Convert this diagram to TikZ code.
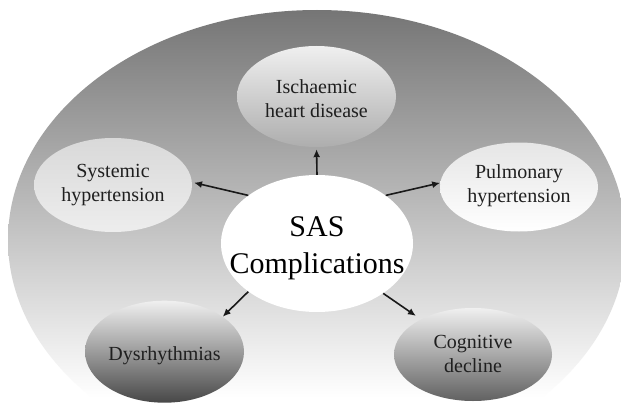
\documentclass[tikz,border=0pt]{standalone}
\usepackage{fontspec}
\newfontfamily\tnr{LiberationSerif-Regular.ttf}
\usetikzlibrary{shapes.geometric,arrows.meta}
\newcommand{\lines}[2][0pt]{\makebox[0pt][c]{\raisebox{#1}[\height][\depth]{\begin{tabular}{@{}c@{}}#2\end{tabular}}}}
\begin{document}
\begin{tikzpicture}[x=1pt,y=-1pt,
  blob/.style={ellipse, inner sep=0pt, minimum width=159pt, minimum height=99pt,
    font=\tnr\fontsize{20}{24.5}\selectfont, text=black!88},
  arr/.style={-{Latex[length=8pt,width=7pt]}, line width=1.6pt, black!90}]
\useasboundingbox[fill=white] (0,0) rectangle (621,412);
\node[ellipse, inner sep=0pt, minimum width=618pt, minimum height=460pt] (bg) at (317,240) {};
\begin{scope}
  \clip (bg.center) ellipse [x radius=309pt, y radius=230pt];
  \shade[top color=black!54, middle color=black!29, bottom color=white] (0,10) rectangle (621,398);
  \fill[white] (0,398) rectangle (621,412);
\end{scope}
\node[ellipse, inner sep=0pt, fill=white, minimum width=192pt, minimum height=137pt,
  font=\tnr\fontsize{30}{37}\selectfont] (c) at (317,243.5) {\lines[-3.6pt]{SAS\\Complications}};
\node[blob, minimum width=159pt, minimum height=101pt, top color=black!6, middle color=black!11, bottom color=black!32] (isch) at (316.5,96.5) {\lines[-4pt]{Ischaemic\\heart disease}};
\node[blob, minimum width=158pt, minimum height=94pt, top color=black!15, bottom color=black!7] (sys) at (113,185) {\lines[0.5pt]{Systemic\\hypertension}};
\node[blob, minimum width=158pt, minimum height=89pt, top color=black!10, bottom color=white] (pul) at (519,187) {\lines[1.4pt]{Pulmonary\\hypertension}};
\node[blob, minimum width=159pt, minimum height=102pt, top color=black!6, middle color=black!24, bottom color=black!72] (dys) at (164.5,351.7) {\lines[-4pt]{Dysrhythmias}};
\node[blob, minimum width=158pt, minimum height=93pt, top color=black!6, middle color=black!20, bottom color=black!62] (cog) at (473,354.5) {\lines[-1pt]{Cognitive\\decline}};
\draw[arr, shorten >=2pt] (c.north) -- (isch.south);
\draw[arr, shorten >=2pt] (c.145) -- (sys.2);
\draw[arr] (c.35.5) -- (pul.177);
\draw[arr] (c.215.7) -- (dys.31.5);
\draw[arr, shorten >=6pt] (c.323.8) -- (cog.146);
\end{tikzpicture}
\end{document}
